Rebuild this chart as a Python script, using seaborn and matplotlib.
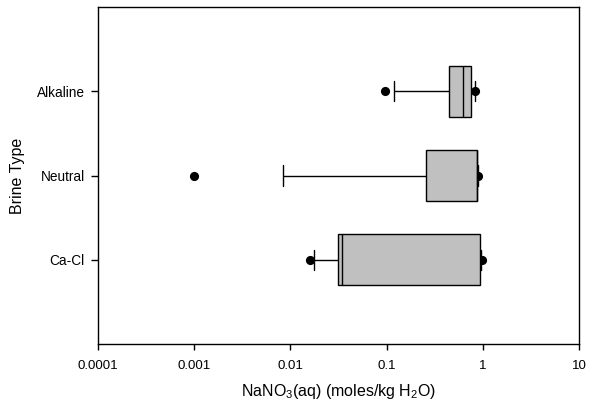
import numpy as np
import pandas as pd
import matplotlib
matplotlib.use("Agg")
import matplotlib.pyplot as plt
import seaborn as sns

# Summary statistics of NaNO3 concentration per brine type (moles/kg H2O)
brine_types = ["Alkaline", "Neutral", "Ca-Cl"]
whisker_low = [0.118, 0.0083, 0.0174]
quartile_1 = [0.44, 0.259, 0.0309]
median = [0.63, 0.872, 0.0344]
quartile_3 = [0.755, 0.874, 0.93]
whisker_high = [0.82, 0.885, 0.95]
point_low = [0.096, 0.001, 0.0158]
point_high = [0.83, 0.885, 0.975]

x_ticks = [0.0001, 0.001, 0.01, 0.1, 1, 10]
x_tick_labels = ["0.0001", "0.001", "0.01", "0.1", "1", "10"]

sns.set_theme(style="ticks")
plt.rcParams["font.family"] = ["Liberation Sans", "DejaVu Sans"]
plt.rcParams["mathtext.fontset"] = "custom"
plt.rcParams["mathtext.rm"] = "Liberation Sans"
plt.rcParams["mathtext.it"] = "Liberation Sans"
plt.rcParams["mathtext.default"] = "regular"

# Five-number summaries as rows: whiskers are the extremes (whis=inf)
box_rows = []
for i, name in enumerate(brine_types):
    for v in (whisker_low[i], quartile_1[i], median[i], quartile_3[i], whisker_high[i]):
        box_rows.append({"brine": name, "value": v})
box_df = pd.DataFrame(box_rows)

point_df = pd.DataFrame({
    "brine": brine_types * 2,
    "value": point_low + point_high,
})

fig = plt.figure(figsize=(5.94, 4.08), dpi=100)
ax = fig.add_axes([98 / 594, 1 - 344 / 408, 481 / 594, 337 / 408])

sns.stripplot(data=point_df, x="value", y="brine", order=brine_types,
              jitter=False, color="black", size=6.6, linewidth=0,
              log_scale=True, zorder=1, ax=ax)
sns.boxplot(data=box_df, x="value", y="brine", order=brine_types,
            whis=np.inf, color="#c0c0c0", saturation=1, linecolor="black",
            linewidth=1.0, width=0.6, capwidths=0.24, log_scale=True,
            ax=ax)

ax.set_xscale("log")
ax.set_xlim(0.0001, 10)
ax.set_ylim(3, -1)
ax.set_xticks(x_ticks)
ax.set_xticklabels(x_tick_labels)
ax.xaxis.set_minor_locator(matplotlib.ticker.NullLocator())
ax.set_yticks(range(len(brine_types)))
ax.set_yticklabels(brine_types)

for side in ("top", "right", "left", "bottom"):
    ax.spines[side].set_visible(True)
    ax.spines[side].set_color("black")
    ax.spines[side].set_linewidth(1.0)

ax.tick_params(axis="x", direction="out", length=4, width=1, pad=7.5,
               labelsize=9.5, colors="black")
ax.tick_params(axis="y", direction="out", length=5, width=1, pad=4.5,
               labelsize=9.8, colors="black")

ax.set_xlabel(r"NaNO$_3$(aq) (moles/kg H$_2$O)", fontsize=11.5, labelpad=7,
              color="black")
ax.set_ylabel("Brine Type", fontsize=11.5, labelpad=8.5, color="black")

fig.savefig("out.png", dpi=100)
